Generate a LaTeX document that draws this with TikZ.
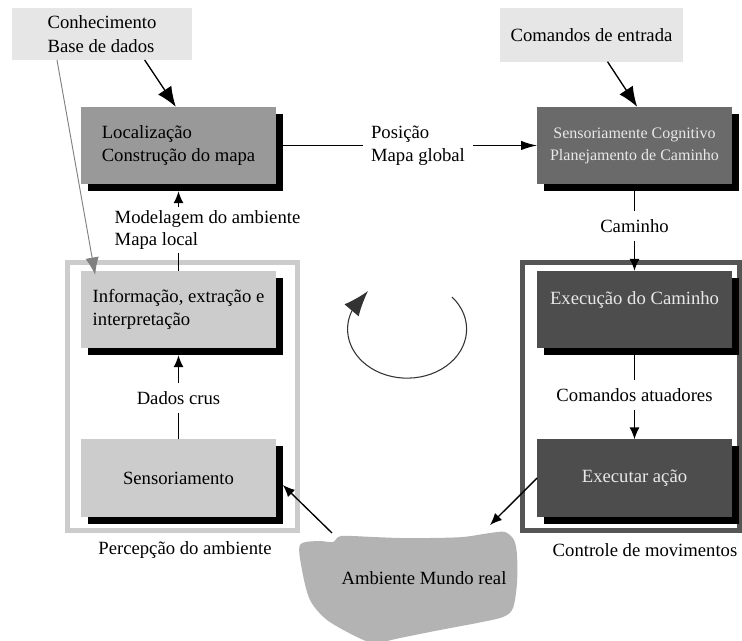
\documentclass[tikz,border=0pt]{standalone}
\usepackage{fontspec}
\setmainfont{Liberation Serif}
\usetikzlibrary{arrows.meta,shadows}

\definecolor{palebox}{HTML}{E6E6E6}
\definecolor{lightbox}{HTML}{CCCCCC}
\definecolor{midbox}{HTML}{999999}
\definecolor{greybox}{HTML}{6A6A6A}
\definecolor{darkbox}{HTML}{4D4D4D}
\definecolor{darkframe}{HTML}{555555}
\definecolor{worldgray}{HTML}{B3B3B3}
\definecolor{lighttext}{HTML}{E8E8E8}

\begin{document}
\begin{tikzpicture}[x=0.75pt,y=-0.75pt,
    box/.style={rectangle,inner sep=0pt,outer sep=0pt,minimum width=146pt,minimum height=58pt,
      align=left,font=\fontsize{14}{17}\selectfont,
      drop shadow={shadow xshift=5.25pt,shadow yshift=-5.25pt,fill=black,opacity=1}},
    note/.style={rectangle,fill=palebox,inner sep=0pt,outer sep=0pt,minimum width=135pt,
      minimum height=39pt,align=left,font=\fontsize{14}{18}\selectfont},
    lbl/.style={inner sep=6pt,align=left,font=\fontsize{14}{17}\selectfont},
    link/.style={draw=black,line width=1pt},
    arr/.style={link,-{Latex[length=9pt,width=7.5pt]}},
    bigarr/.style={link,-{Latex[length=15pt,width=12pt]}}]

\useasboundingbox (0,0) rectangle (742,641);

\draw[line width=3.75pt,draw=lightbox] (67.5,262.5) rectangle (297.5,530.5);
\draw[line width=3.75pt,draw=darkframe] (522.5,262.5) rectangle (739.5,530.5);

\node[note] (know) at (102,34) {Conhecimento\\Base de dados};
\node[note,minimum width=137pt,minimum height=40pt] (cmd) at (591.5,35) {Comandos de entrada};

\node[box,fill=midbox] (loc) at (178.5,145.5) {Localização\\Construção do mapa};
\node[box,fill=greybox,text=lighttext,align=center,font=\fontsize{12}{16.5}\selectfont] (plan) at (634.5,145.5) {Sensoriamente Cognitivo\\Planejamento de Caminho};
\node[box,fill=lightbox] (inf) at (178.5,309.5) {Informação, extração e\\interpretação};
\node[box,fill=lightbox] (sen) at (178.5,478) {Sensoriamento};
\node[box,fill=darkbox,text=lighttext,align=center] (exe) at (634.5,309.5) {Execução do Caminho\\\mbox{}};
\node[box,fill=darkbox,text=lighttext] (act) at (634.5,478) {Executar ação};

\node[lbl] (pos) at (418,145.5) {Posição\\Mapa global};
\node[lbl,inner sep=2pt] (model) at (207.5,230) {Modelagem do ambiente\\Mapa local};
\node[lbl] (raw) at (178.5,398) {Dados crus};
\node[lbl] (route) at (634.5,226) {Caminho};
\node[lbl] (cmdact) at (634.5,395) {Comandos atuadores};
\node[lbl] (percep) at (185,550) {Percepção do ambiente};
\node[lbl] (motion) at (645,550) {Controle de movimentos};

\fill[worldgray] plot[smooth cycle,tension=0.5] coordinates {
  (300,545) (318,541) (333,542) (341,536) (373,537) (400,538) (430,538) (463,537)
  (490,533) (505,532) (514,540) (517,555) (517,583) (513,608) (503,617) (477,623)
  (440,630) (400,638) (375,643) (357,637) (327,620) (310,600) (302,570)};
\node[lbl] (world) at (424,578) {Ambiente Mundo real};
\coordinate (wl) at (332,533);
\coordinate (wr) at (490,525);

\draw[bigarr] ([xshift=32pt]know.south) -- ([xshift=-2pt]loc.north);
\draw[bigarr] ([xshift=12pt]cmd.south) -- ([xshift=2pt]plan.north);
\draw[draw=gray,line width=0.7pt,-{Latex[length=13pt,width=10pt]}] ([xshift=-33.75pt]know.south) -- ([xshift=10.5pt,yshift=-3pt]inf.north west);

\draw[link] ([xshift=5.25pt]loc.east) -- (pos);
\draw[link,-{Latex[length=12pt,width=7pt]}] (pos) -- (plan);
\draw[link] ([yshift=-5.25pt]plan.south) -- (route);
\draw[arr] (route) -- (exe);
\draw[link] ([yshift=-5.25pt]exe.south) -- (cmdact);
\draw[arr] (cmdact) -- (act);
\draw[arr] (act.west) -- (wr);
\draw[arr] (wl) -- ([xshift=5.25pt,yshift=-5.25pt]sen.east);
\draw[link] (sen.north) -- (raw);
\draw[arr] (raw) -- ([yshift=-5.25pt]inf.south);
\draw[link] (inf.north) -- (inf.north |- model.south);
\draw[arr] (loc.south |- model.north) -- ([yshift=-5.25pt]loc.south);

\draw[draw=black!80,line width=0.8pt,-{Latex[length=19pt,width=14pt]}] (452,297) arc[start angle=-41,end angle=205,x radius=59.5,y radius=49] -- (368,291);
\end{tikzpicture}
\end{document}
